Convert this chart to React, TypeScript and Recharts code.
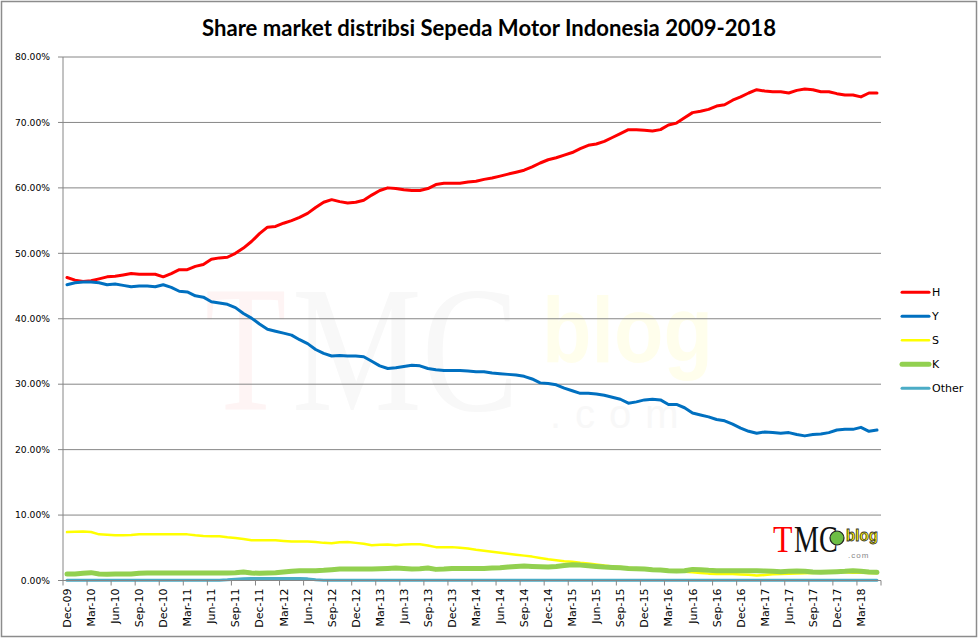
import React from 'react';
import { LineChart, Line, XAxis, YAxis, CartesianGrid } from 'recharts';

const MONTHS = ['Jan', 'Feb', 'Mar', 'Apr', 'May', 'Jun', 'Jul', 'Aug', 'Sep', 'Oct', 'Nov', 'Dec'];
// Dec-09 ... May-18 (monthly)
const CATEGORIES: string[] = (() => {
  const out: string[] = ['Dec-09'];
  for (let y = 10; y <= 18; y++) {
    for (let m = 0; m < 12; m++) {
      if (y === 18 && m > 4) break;
      out.push(`${MONTHS[m]}-${String(y).padStart(2, '0')}`);
    }
  }
  return out;
})();

const H_VALUES = [
  46.3, 45.9, 45.7, 45.8, 46.1, 46.4, 46.5, 46.7, 46.9, 46.8,
  46.8, 46.8, 46.4, 46.9, 47.5, 47.5, 48.0, 48.3, 49.1, 49.3,
  49.4, 50.0, 50.8, 51.8, 53.0, 54.0, 54.1, 54.6, 55.0, 55.5,
  56.1, 57.0, 57.8, 58.2, 57.9, 57.7, 57.8, 58.1, 58.9, 59.6,
  60.0, 59.9, 59.7, 59.6, 59.6, 59.9, 60.5, 60.7, 60.7, 60.7,
  60.9, 61.0, 61.3, 61.5, 61.8, 62.1, 62.4, 62.7, 63.2, 63.8,
  64.3, 64.6, 65.0, 65.4, 66.0, 66.5, 66.7, 67.1, 67.7, 68.3,
  68.9, 68.9, 68.8, 68.7, 68.9, 69.6, 69.9, 70.7, 71.5, 71.7,
  72.0, 72.5, 72.7, 73.4, 73.9, 74.5, 75.0, 74.8, 74.7, 74.7,
  74.5, 74.9, 75.1, 75.0, 74.7, 74.7, 74.4, 74.2, 74.2, 73.9,
  74.5, 74.5,
];

const Y_VALUES = [
  45.2, 45.5, 45.6, 45.6, 45.5, 45.2, 45.3, 45.1, 44.9, 45.0,
  45.0, 44.9, 45.2, 44.8, 44.2, 44.1, 43.5, 43.3, 42.6, 42.4,
  42.2, 41.7, 40.8, 40.1, 39.2, 38.4, 38.1, 37.8, 37.5, 36.8,
  36.2, 35.3, 34.7, 34.3, 34.4, 34.3, 34.3, 34.2, 33.5, 32.8,
  32.4, 32.5, 32.7, 32.9, 32.8, 32.4, 32.2, 32.1, 32.1, 32.1,
  32.0, 31.9, 31.9, 31.7, 31.6, 31.5, 31.4, 31.2, 30.8, 30.2,
  30.1, 29.9, 29.4, 29.0, 28.6, 28.6, 28.5, 28.3, 28.0, 27.7,
  27.1, 27.3, 27.6, 27.7, 27.6, 26.9, 26.9, 26.4, 25.6, 25.3,
  25.0, 24.6, 24.4, 23.9, 23.3, 22.8, 22.5, 22.7, 22.6, 22.5,
  22.6, 22.3, 22.1, 22.3, 22.4, 22.6, 23.0, 23.1, 23.1, 23.4,
  22.8, 23.0,
];

const S_VALUES = [
  7.4, 7.45, 7.5, 7.4, 7.05, 7.0, 6.9, 6.9, 6.95, 7.05,
  7.05, 7.05, 7.05, 7.05, 7.05, 7.05, 6.9, 6.8, 6.75, 6.75,
  6.6, 6.5, 6.35, 6.15, 6.15, 6.15, 6.15, 6.05, 5.95, 5.95,
  5.95, 5.9, 5.75, 5.7, 5.85, 5.9, 5.75, 5.6, 5.4, 5.45,
  5.5, 5.4, 5.5, 5.55, 5.55, 5.35, 5.1, 5.1, 5.1, 5.0,
  4.9, 4.7, 4.55, 4.4, 4.25, 4.1, 3.95, 3.8, 3.65, 3.45,
  3.25, 3.1, 2.95, 2.85, 2.7, 2.6, 2.45, 2.3, 2.15, 2.05,
  1.95, 1.85, 1.75, 1.7, 1.55, 1.45, 1.4, 1.35, 1.25, 1.15,
  1.05, 1.0, 1.0, 0.98, 0.92, 0.88, 0.75, 0.85, 0.95, 1.0,
  1.05, 1.08, 1.12, 1.15, 1.2, 1.22, 1.25, 1.25, 1.2, 1.2,
  1.15, 1.1,
];

const K_VALUES = [
  1.0, 1.0, 1.1, 1.2, 1.0, 0.95, 1.0, 1.0, 1.0, 1.1,
  1.15, 1.15, 1.15, 1.15, 1.15, 1.15, 1.15, 1.15, 1.15, 1.15,
  1.15, 1.2, 1.3, 1.15, 1.1, 1.15, 1.2, 1.3, 1.4, 1.5,
  1.5, 1.5, 1.55, 1.65, 1.75, 1.75, 1.75, 1.75, 1.75, 1.8,
  1.85, 1.9, 1.85, 1.75, 1.8, 1.9, 1.7, 1.75, 1.85, 1.85,
  1.85, 1.85, 1.85, 1.9, 1.95, 2.05, 2.15, 2.2, 2.15, 2.1,
  2.05, 2.15, 2.3, 2.4, 2.35, 2.25, 2.15, 2.05, 2.0, 1.95,
  1.85, 1.8, 1.75, 1.65, 1.6, 1.5, 1.45, 1.5, 1.7, 1.65,
  1.55, 1.5, 1.5, 1.5, 1.5, 1.5, 1.5, 1.45, 1.4, 1.35,
  1.4, 1.45, 1.4, 1.3, 1.25, 1.3, 1.35, 1.4, 1.5, 1.4,
  1.3, 1.25,
];

const OTHER_VALUES = [
  0.05, 0.05, 0.05, 0.05, 0.05, 0.05, 0.05, 0.05, 0.05, 0.05,
  0.05, 0.05, 0.05, 0.05, 0.05, 0.05, 0.05, 0.05, 0.05, 0.05,
  0.1, 0.2, 0.25, 0.3, 0.3, 0.3, 0.3, 0.3, 0.3, 0.3,
  0.25, 0.1, 0.05, 0.05, 0.05, 0.05, 0.05, 0.05, 0.05, 0.05,
  0.05, 0.05, 0.05, 0.05, 0.05, 0.05, 0.05, 0.05, 0.05, 0.05,
  0.05, 0.05, 0.05, 0.05, 0.05, 0.05, 0.05, 0.05, 0.05, 0.05,
  0.05, 0.05, 0.05, 0.05, 0.05, 0.05, 0.05, 0.05, 0.05, 0.05,
  0.05, 0.05, 0.05, 0.05, 0.05, 0.05, 0.05, 0.05, 0.05, 0.05,
  0.05, 0.05, 0.05, 0.05, 0.05, 0.05, 0.05, 0.05, 0.05, 0.05,
  0.05, 0.05, 0.05, 0.05, 0.05, 0.05, 0.05, 0.05, 0.05, 0.05,
  0.05, 0.05,
];

const Y_TICKS = [0, 10, 20, 30, 40, 50, 60, 70, 80];

const SERIES = [
  { key: 'H', name: 'H', color: '#FF0000', width: 3, values: H_VALUES },
  { key: 'Y', name: 'Y', color: '#0070C0', width: 3, values: Y_VALUES },
  { key: 'S', name: 'S', color: '#FFFF00', width: 2.5, values: S_VALUES },
  { key: 'K', name: 'K', color: '#92D050', width: 5, values: K_VALUES },
  { key: 'Other', name: 'Other', color: '#4BACC6', width: 3, values: OTHER_VALUES },
];

const TITLE = 'Share market distribsi Sepeda Motor Indonesia 2009-2018';
const FONT = '"DejaVu Sans", Verdana, sans-serif';
const SERIF = '"Liberation Serif", serif';
const SANS = '"Liberation Sans", Arial, sans-serif';

const PLOT_LEFT = 63;
const PLOT_RIGHT = 881;
const BAND = (PLOT_RIGHT - PLOT_LEFT) / CATEGORIES.length;

const data = CATEGORIES.map((cat, i) => {
  const row: Record<string, string | number> = { cat };
  SERIES.forEach((s) => {
    row[s.key] = s.values[i];
  });
  return row;
});

const XTick = (props: any) => {
  const { x, y, payload } = props;
  const axisY = y - 8;
  const isLast = payload && payload.index === CATEGORIES.length - 3;
  return (
    <g>
      <line x1={x - BAND / 2} x2={x - BAND / 2} y1={axisY} y2={axisY + 5} stroke="#868686" />
      {isLast && (
        <line x1={x + BAND * 2.5} x2={x + BAND * 2.5} y1={axisY} y2={axisY + 5} stroke="#868686" />
      )}
      <text
        transform={`translate(${x},${y}) rotate(-90)`}
        textAnchor="end"
        dy="0.36em"
        fontSize={11}
        fontFamily={FONT}
        fill="#000"
      >
        {payload.value}
      </text>
    </g>
  );
};

const Background = () => (
  <svg width={979} height={640} style={{ position: 'absolute', left: 0, top: 0 }}>
    <rect x={1.5} y={1.5} width={975} height={635} fill="#fff" stroke="#8c8c8c" strokeWidth={1.5} />
    {/* faint watermark */}
    <g transform="translate(205,410) scale(0.74,1)">
      <text x={0} y={0} fontFamily={SERIF} fontSize={180} fill="#FEF4F4">T</text>
    </g>
    <g transform="translate(292,410) scale(0.81,1)">
      <text x={0} y={0} fontFamily={SERIF} fontSize={180} fill="#F8F8F8">MC</text>
    </g>
    <g transform="translate(542,362) scale(0.88,1)">
      <text x={0} y={0} fontFamily={SANS} fontWeight={700} fontSize={92} fill="#FFFEEC">blog</text>
    </g>
    <text x={550} y={428} fontFamily={SANS} fontSize={40} fill="#F8F8F8" letterSpacing={14}>
      .com
    </text>
    {/* title */}
    <text x={489} y={36} textAnchor="middle" fontFamily='Lato, "Open Sans", sans-serif' fontWeight={700} fontSize={22} fill="#000" textLength={574} lengthAdjust="spacingAndGlyphs">
      {TITLE}
    </text>
    {/* legend */}
    {SERIES.map((s, i) => {
      const cy = 292.3 + i * 24;
      return (
        <g key={s.key}>
          <line x1={902} x2={929} y1={cy} y2={cy} stroke={s.color} strokeWidth={s.width} strokeLinecap="round" />
          <text x={932} y={cy} dy="0.36em" fontSize={11} fontFamily={FONT} fill="#000">
            {s.name}
          </text>
        </g>
      );
    })}
  </svg>
);

const Logo = () => (
  <svg width={979} height={640} style={{ position: 'absolute', left: 0, top: 0, pointerEvents: 'none' }}>
    <g transform="translate(773,552) scale(0.84,1)">
      <text x={0} y={0} fontFamily={SERIF} fontSize={38} fill="#FF0000">T</text>
    </g>
    <g transform="translate(794,552) scale(0.74,1)">
      <text x={0} y={0} fontFamily={SERIF} fontSize={38} fill="#111">MC</text>
    </g>
    <circle cx={837} cy={538} r={7} fill="#6DBE45" stroke="#222" strokeWidth={1.2} />
    <g transform="translate(846,541) scale(0.95,1)">
      <text x={0} y={0} fontFamily={SANS} fontWeight={700} fontSize={16} fill="#FFF200" stroke="#333" strokeWidth={0.8}>blog</text>
    </g>
    <text x={848} y={558} fontFamily={SANS} fontSize={8} fill="#888" letterSpacing={1}>
      .com
    </text>
  </svg>
);

export default function App() {
  return (
    <div style={{ position: 'absolute', left: 0, top: 0, width: 979, height: 640 }}>
      <Background />
      <div style={{ position: 'absolute', left: 0, top: 0 }}>
        <LineChart width={979} height={640} data={data} margin={{ top: 57, right: 979 - PLOT_RIGHT, bottom: 0, left: 0 }}>
          <CartesianGrid vertical={false} stroke="#868686" strokeWidth={1} />
          <XAxis
            dataKey="cat"
            interval={2}
            height={59.5}
            padding={{ left: BAND / 2, right: BAND / 2 }}
            axisLine={{ stroke: '#868686' }}
            tickLine={false}
            tickSize={5}
            tickMargin={3}
            tick={<XTick />}
          />
          <YAxis
            domain={[0, 80]}
            ticks={Y_TICKS}
            width={PLOT_LEFT}
            axisLine={{ stroke: '#868686' }}
            tickLine={{ stroke: '#868686' }}
            tickSize={5}
            tickMargin={8}
            tick={{ fontSize: 9.2, fontFamily: FONT, fill: '#000' }}
            tickFormatter={(v: number) => `${v.toFixed(2)}%`}
          />
          {SERIES.map((s) => (
            <Line
              key={s.key}
              type="linear"
              dataKey={s.key}
              name={s.name}
              stroke={s.color}
              strokeWidth={s.width}
              dot={false}
              activeDot={false}
              strokeLinejoin="round"
              strokeLinecap="round"
              isAnimationActive={false}
            />
          ))}
        </LineChart>
      </div>
      <Logo />
    </div>
  );
}
